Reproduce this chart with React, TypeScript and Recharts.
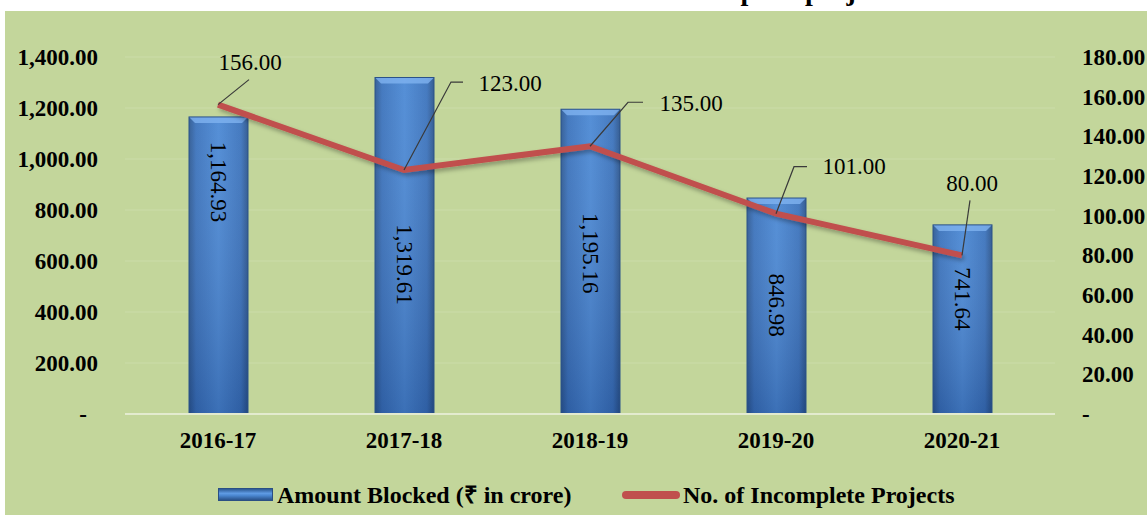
import React from 'react';
import {
  ComposedChart,
  Bar,
  Line,
  XAxis,
  YAxis,
  CartesianGrid,
  LabelList
} from 'recharts';

const years = ['2016-17', '2017-18', '2018-19', '2019-20', '2020-21'];
const amountBlocked = [1164.93, 1319.61, 1195.16, 846.98, 741.64];
const incompleteProjects = [156, 123, 135, 101, 80];
const leftTicks = [0, 200, 400, 600, 800, 1000, 1200, 1400];
const rightTicks = [0, 20, 40, 60, 80, 100, 120, 140, 160, 180];

const data = years.map((year, i) => ({
  year,
  amount: amountBlocked[i],
  projects: incompleteProjects[i]
}));

// hand placed label positions, like the original sheet
const barLabelDy = [65, 187, 144, 107, 74];
const lineLabelPos = [
  { elbow: [31, -25], end: null, text: [32, -42] },
  { elbow: [47, -88], end: 59, text: [106, -87] },
  { elbow: [38, -44], end: 53, text: [101, -43] },
  { elbow: [18, -47], end: 31, text: [78, -47] },
  { elbow: [8, -55], end: null, text: [10, -72] }
];

const FONT = '"Liberation Serif", "Times New Roman", Times, serif';
const fmt = (v: number) =>
  v === 0 ? '-' : v.toLocaleString('en-US', { minimumFractionDigits: 2, maximumFractionDigits: 2 });

const LeftTick = (props: any) => {
  const { x, y, payload } = props;
  return (
    <text x={payload.value === 0 ? x - 11 : x} y={y} dy="0.35em" textAnchor="end"
      fontFamily={FONT} fontSize={23} fontWeight="bold" fill="#000">
      {fmt(payload.value)}
    </text>
  );
};

const RightTick = (props: any) => {
  const { x, y, payload } = props;
  return (
    <text x={x} y={y} dy="0.35em" textAnchor="start"
      fontFamily={FONT} fontSize={23} fontWeight="bold" fill="#000">
      {fmt(payload.value)}
    </text>
  );
};

const BottomTick = (props: any) => {
  const { x, y, payload } = props;
  return (
    <text x={x} y={y} dy="0.71em" textAnchor="middle"
      fontFamily={FONT} fontSize={23} fontWeight="bold" fill="#000">
      {payload.value}
    </text>
  );
};

const BarShape = (props: any) => {
  const { x, y, width, height } = props;
  if (!height || height <= 0) return null;
  const b = 6;
  return (
    <g>
      <rect x={x} y={y} width={width} height={height} fill="url(#barH)" />
      <rect x={x} y={y} width={width} height={height} fill="url(#barV)" />
      <polygon
        points={`${x},${y} ${x + width},${y} ${x + width - b},${y + b} ${x + b},${y + b}`}
        fill="#7fb3f0" opacity={0.8}
      />
      <rect x={x} y={y} width={width} height={height} fill="none" stroke="#2b5289" strokeWidth={1} />
    </g>
  );
};

const BarValueLabel = (props: any) => {
  const { x, y, width, value, index } = props;
  const cx = x + width / 2;
  const cy = y + barLabelDy[index];
  return (
    <text x={cx} y={cy} dy="0.33em" textAnchor="middle" transform={`rotate(90, ${cx}, ${cy})`}
      fontFamily={FONT} fontSize={23} fill="#000">
      {fmt(value)}
    </text>
  );
};

const LineValueLabel = (props: any) => {
  const { x, y, value, index } = props;
  const p = lineLabelPos[index];
  if (!p) return null;
  const ex = x + p.elbow[0];
  const ey = y + p.elbow[1];
  const pts = p.end != null ? `${x},${y} ${ex},${ey} ${x + p.end},${ey}` : `${x},${y} ${ex},${ey}`;
  return (
    <g>
      <polyline points={pts} fill="none" stroke="#3a3a3a" strokeWidth={1.2} />
      <text x={x + p.text[0]} y={y + p.text[1]} dy="0.33em" textAnchor="middle"
        fontFamily={FONT} fontSize={23} fill="#000">
        {fmt(value)}
      </text>
    </g>
  );
};

export default function App() {
  return (
    <div style={{ position: 'absolute', left: 0, top: 0, width: 1147, height: 515, background: '#fff', overflow: 'hidden' }}>
      <div style={{ position: 'absolute', left: 5, top: 11, right: 0, bottom: 0, background: '#c3d69b' }} />
      <svg width={1147} height={11} style={{ position: 'absolute', left: 0, top: 0 }}>
        <text x={901} y={0} textAnchor="end" fontFamily={FONT} fontSize={28} fontWeight="bold" fill="#000">
          Amount Blocked in Incomplete projects
        </text>
      </svg>
      <div style={{ position: 'absolute', left: 0, top: 0 }}>
        <ComposedChart width={1147} height={515} data={data}
          margin={{ top: 57, right: 0, left: 0, bottom: 41 }}>
          <defs>
            <linearGradient id="barH" x1="0" y1="0" x2="1" y2="0">
              <stop offset="0%" stopColor="#2c5892" />
              <stop offset="12%" stopColor="#3a72bc" />
              <stop offset="50%" stopColor="#4a88d4" />
              <stop offset="88%" stopColor="#3a72bc" />
              <stop offset="100%" stopColor="#2a548c" />
            </linearGradient>
            <linearGradient id="barV" x1="0" y1="0" x2="0" y2="1">
              <stop offset="0%" stopColor="#ffffff" stopOpacity={0.06} />
              <stop offset="100%" stopColor="#001040" stopOpacity={0.2} />
            </linearGradient>
            <filter id="lineShadow" x="-10%" y="-30%" width="120%" height="160%">
              <feDropShadow dx="2" dy="3" stdDeviation="2" floodColor="#000" floodOpacity="0.3" />
            </filter>
          </defs>
          <CartesianGrid vertical={false} stroke="#cbdca9" strokeWidth={1} yAxisId="left" />
          <XAxis dataKey="year" height={60} tickLine={false} tickMargin={12}
            axisLine={{ stroke: '#e3ebcf', strokeWidth: 2 }} tick={<BottomTick />} />
          <YAxis yAxisId="left" width={125} domain={[0, 1400]} ticks={leftTicks}
            axisLine={false} tickLine={false} tickMargin={21} tick={<LeftTick />} />
          <YAxis yAxisId="right" orientation="right" width={92} domain={[0, 180]} ticks={rightTicks}
            axisLine={false} tickLine={false} tickMargin={21} tick={<RightTick />} />
          <Bar yAxisId="left" dataKey="amount" barSize={59} shape={<BarShape />} isAnimationActive={false}>
            <LabelList dataKey="amount" content={<BarValueLabel />} />
          </Bar>
          <Line yAxisId="right" dataKey="projects" type="linear" stroke="#c0504d" strokeWidth={6}
            dot={false} activeDot={false} filter="url(#lineShadow)" isAnimationActive={false}>
            <LabelList dataKey="projects" content={<LineValueLabel />} />
          </Line>
        </ComposedChart>
      </div>
      <div style={{ position: 'absolute', left: 218, top: 488, width: 55, height: 13,
        background: 'linear-gradient(to bottom, #2b5892 0%, #5f9be4 40%, #4a86d0 60%, #2a528a 100%)',
        border: '1px solid #2a4f84', boxSizing: 'border-box' }} />
      <div style={{ position: 'absolute', left: 277, top: 480, height: 30, lineHeight: '30px',
        fontFamily: FONT, fontSize: 24, fontWeight: 'bold', color: '#000', whiteSpace: 'nowrap' }}>
        Amount Blocked (₹ in crore)
      </div>
      <div style={{ position: 'absolute', left: 622, top: 491, width: 58, height: 8, borderRadius: 4,
        background: '#c0504d' }} />
      <div style={{ position: 'absolute', left: 683, top: 480, height: 30, lineHeight: '30px',
        fontFamily: FONT, fontSize: 24, fontWeight: 'bold', color: '#000', whiteSpace: 'nowrap' }}>
        No. of Incomplete Projects
      </div>
    </div>
  );
}
